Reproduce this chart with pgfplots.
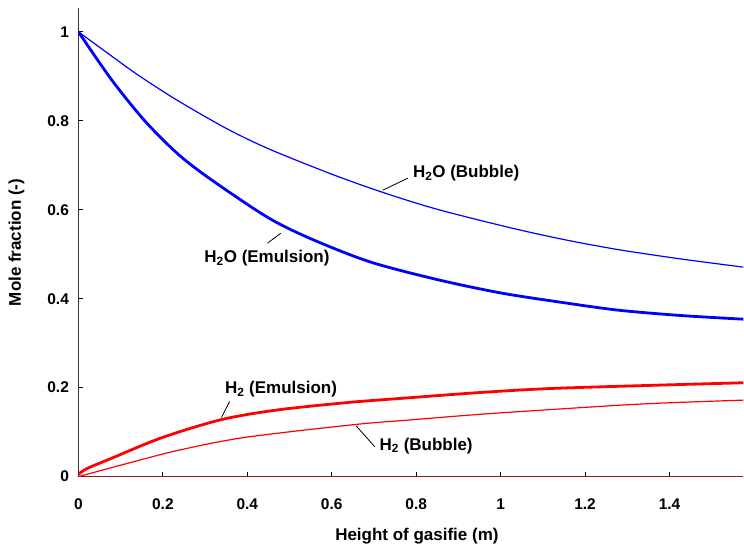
\documentclass[border=0pt]{standalone}
\usepackage{fontspec}
\setmainfont{Liberation Sans}
\usepackage{pgfplots}
\pgfplotsset{compat=1.18}

\definecolor{darkred}{RGB}{139,26,26}

\begin{document}
\begin{tikzpicture}
\begin{axis}[
    scale only axis,
    width=665.5pt, height=468.7pt,
    xmin=0, xmax=1.575,
    ymin=0, ymax=1.053,
    axis x line=bottom, axis y line=left,
    axis line style={-, draw=black!80, line width=1.2pt},
    tick align=inside,
    major tick length=5pt,
    tick style={black, line width=0.8pt},
    xtick={0,0.2,0.4,0.6,0.8,1,1.2,1.4},
    ytick={0,0.2,0.4,0.6,0.8,1},
    /pgf/number format/assume math mode=true,
    ticklabel style={font=\bfseries\fontsize{15.5}{18}\selectfont},
    xticklabel style={yshift=-19pt},
    yticklabel style={xshift=-6pt},
    xlabel={Height of gasifie (m)},
    ylabel={Mole fraction (-)},
    every axis x label/.style={at={(axis description cs:0.5,0)}, anchor=center,
        yshift=-60pt, xshift=6pt, font=\bfseries\fontsize{17}{20}\selectfont},
    every axis y label/.style={at={(axis description cs:0,0.5)}, anchor=center,
        xshift=-62pt, rotate=90, font=\bfseries\fontsize{17}{20}\selectfont},
]
% zero-level species
\addplot[darkred, line width=2pt] coordinates {(0,0) (1.575,0)};

% H2O (Bubble)
\addplot[blue, line width=1.2pt, smooth] coordinates {
(0,1) (0.078,0.946) (0.141,0.903) (0.236,0.845) (0.354,0.781) (0.453,0.736)
(0.6,0.680) (0.721,0.639) (0.85,0.601) (1.021,0.560) (1.15,0.533)
(1.281,0.510) (1.43,0.489) (1.575,0.471)};

% H2O (Emulsion)
\addplot[blue, line width=2.8pt, smooth] coordinates {
(0,1) (0.078,0.893) (0.157,0.800) (0.236,0.725) (0.314,0.668) (0.448,0.583)
(0.55,0.535) (0.690,0.483) (0.85,0.443) (1.0,0.413) (1.15,0.391)
(1.281,0.374) (1.43,0.362) (1.575,0.354)};

% H2 (Emulsion)
\addplot[red, line width=2.8pt, smooth] coordinates {
(0,0.005) (0.02,0.018) (0.078,0.041) (0.196,0.087) (0.338,0.128)
(0.472,0.150) (0.643,0.167) (0.78,0.177) (0.95,0.189) (1.116,0.198)
(1.35,0.205) (1.575,0.211)};

% H2 (Bubble)
\addplot[red, line width=1.2pt, smooth] coordinates {
(0,0) (0.117,0.030) (0.236,0.059) (0.393,0.088) (0.654,0.117)
(0.78,0.127) (0.95,0.140) (1.155,0.153) (1.35,0.164) (1.575,0.172)};

% annotations
\begin{scope}[every node/.style={anchor=west, inner sep=0pt, font=\bfseries\fontsize{17}{20}\selectfont}]
\draw[black, line width=0.8pt] (axis cs:0.721,0.644) -- (axis cs:0.780,0.671);
\node at (axis cs:0.792,0.682) {H\textsubscript{2}O (Bubble)};
\draw[black, line width=0.8pt] (axis cs:0.448,0.525) -- (axis cs:0.479,0.547);
\node at (axis cs:0.298,0.491) {H\textsubscript{2}O (Emulsion)};
\draw[black, line width=0.8pt] (axis cs:0.339,0.133) -- (axis cs:0.358,0.169);
\node at (axis cs:0.347,0.196) {H\textsubscript{2} (Emulsion)};
\draw[black, line width=0.8pt] (axis cs:0.658,0.114) -- (axis cs:0.702,0.067);
\node at (axis cs:0.713,0.069) {H\textsubscript{2} (Bubble)};
\end{scope}
\end{axis}
\path ([shift={(-78.5pt,-73.3pt)}]current axis.south west) rectangle ([shift={(0pt,8.3pt)}]current axis.north east);
\end{tikzpicture}
\end{document}
